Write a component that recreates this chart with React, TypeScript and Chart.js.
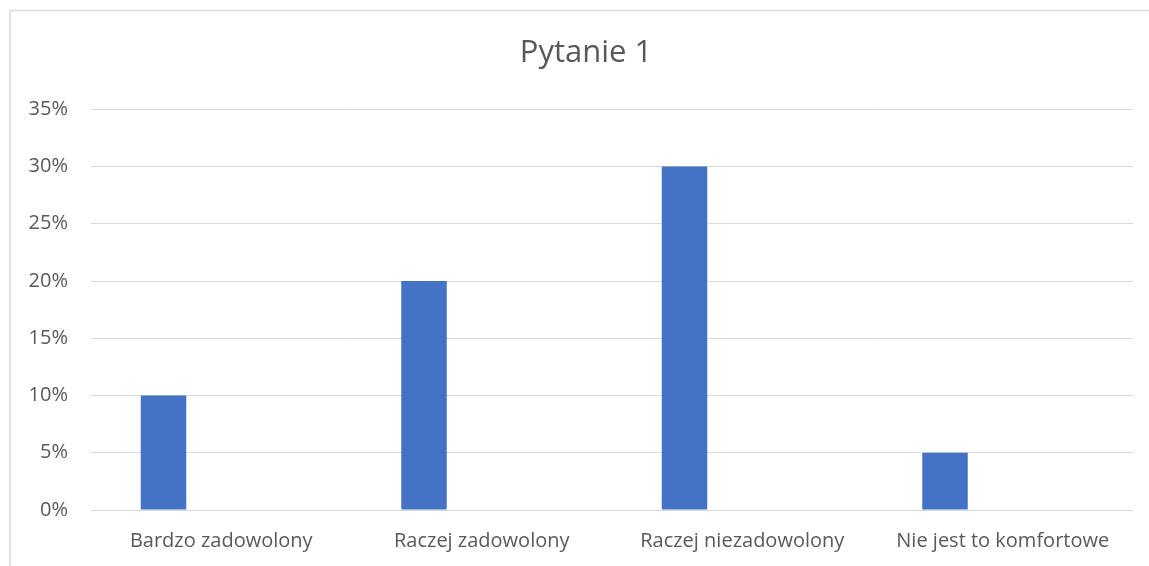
import React, { useEffect, useRef } from "react";
import { Chart, registerables } from "chart.js";

Chart.register(...registerables);

const categories = ["Bardzo zadowolony", "Raczej zadowolony", "Raczej niezadowolony", "Nie jest to komfortowe"];
const seriesValues = [10, 20, 30, 5];
const emptySeriesA = [null, null, null, null];
const emptySeriesB = [null, null, null, null];
const yTicks = [0, 5, 10, 15, 20, 25, 30, 35];
const titleText = "Pytanie 1";

const FONT = "Open Sans";

const frame = {
  id: "frame",
  beforeDraw(chart: any) {
    const ctx = chart.ctx;
    ctx.save();
    ctx.fillStyle = "#ffffff";
    ctx.fillRect(0, 0, chart.width, chart.height);
    ctx.strokeStyle = "#d9d9d9";
    ctx.lineWidth = 1.5;
    ctx.beginPath();
    ctx.moveTo(10, chart.height + 5);
    ctx.lineTo(10, 10.5);
    ctx.lineTo(chart.width + 5, 10.5);
    ctx.stroke();
    ctx.fillStyle = "#595959";
    ctx.font = `31px "${FONT}"`;
    ctx.textAlign = "center";
    ctx.textBaseline = "alphabetic";
    ctx.fillText(titleText, 586, 61.5);
    ctx.restore();
  },
};

export default function App() {
  const ref = useRef<HTMLCanvasElement>(null);
  useEffect(() => {
    const chart = new Chart(ref.current!, {
      type: "bar",
      data: {
        labels: categories,
        datasets: [
          { label: "Seria 1", data: seriesValues, backgroundColor: "#4472C4", categoryPercentage: 0.665, barPercentage: 0.788 },
          { label: "Seria 2", data: emptySeriesA as any, backgroundColor: "#ED7D31", categoryPercentage: 0.665, barPercentage: 0.788 },
          { label: "Seria 3", data: emptySeriesB as any, backgroundColor: "#A5A5A5", categoryPercentage: 0.665, barPercentage: 0.788 },
        ],
      },
      options: {
        responsive: false,
        animation: false,
        layout: { padding: { left: 0, right: 16, top: 109.3, bottom: 0 } },
        plugins: {
          legend: { display: false },
          tooltip: { enabled: false },
          title: { display: false },
        },
        scales: {
          x: {
            grid: { display: false, drawTicks: false },
            border: { display: false },
            ticks: { color: "#595959", font: { family: FONT, size: 20 }, padding: 19, maxRotation: 0, autoSkip: false },
            afterFit: (s: any) => { s.height = 56; },
          },
          y: {
            min: 0,
            max: 35,
            afterBuildTicks: (s: any) => { s.ticks = yTicks.map((v) => ({ value: v })); },
            grid: { color: "#d9d9d9", lineWidth: 1, drawTicks: false },
            border: { display: false },
            ticks: { color: "#595959", font: { family: FONT, size: 20 }, padding: 23, callback: (v: any) => v + "%" },
            afterFit: (s: any) => { s.width = 91; },
          },
        },
      },
      plugins: [frame],
    });
    return () => chart.destroy();
  }, []);
  return (
    <div style={{ position: "absolute", left: 0, top: 0, width: 1149, height: 566, overflow: "hidden" }}>
      <canvas ref={ref} width={1149} height={566} style={{ display: "block" }} />
    </div>
  );
}
